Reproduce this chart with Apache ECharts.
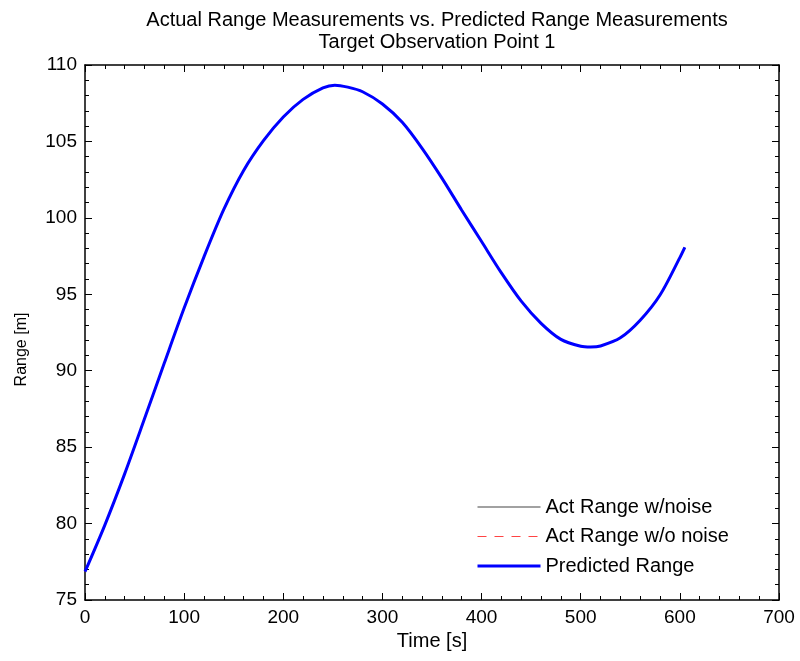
<!DOCTYPE html>
<html>
<head>
<meta charset="utf-8">
<script src="https://cdn.jsdelivr.net/npm/echarts@6/dist/echarts.min.js"></script>
<style>html,body{margin:0;padding:0;background:#fff}#c{width:800px;height:661px}</style>
</head>
<body>
<div id="c"></div>
<script>
const titleLines = ['Actual Range Measurements vs. Predicted Range Measurements', 'Target Observation Point 1'];
const xName = 'Time [s]';
const yName = 'Range [m]';
const seriesNames = ['Act Range w/noise', 'Act Range w/o noise', 'Predicted Range'];
const timeS = [0, 20, 40, 60, 80, 100, 120, 140, 160, 180, 200, 220, 240, 252, 265, 280, 300, 320, 340, 360, 380, 400, 420, 440, 460, 480, 500, 510, 520, 540, 560, 580, 600, 605];
const predictedRange = [76.85, 79.9, 83.25, 86.85, 90.5, 94.1, 97.45, 100.55, 103.1, 105.05, 106.6, 107.75, 108.5, 108.68, 108.55, 108.25, 107.45, 106.25, 104.55, 102.6, 100.5, 98.45, 96.4, 94.55, 93.1, 92.05, 91.6, 91.55, 91.62, 92.15, 93.3, 94.95, 97.4, 98.07];
const actualNoisy = predictedRange.slice();
const actualClean = predictedRange.slice();
const xMin = 0, xMax = 700, xStep = 100;
const yMin = 75, yMax = 110, yStep = 5;

const FONT = 'Liberation Sans, Arial, sans-serif';
const pairs = (xs, ys) => xs.map((x, i) => [x, ys[i]]);
const axisCommon = {
  axisLine: { show: true, onZero: false, lineStyle: { color: '#000', width: 1.5 } },
  axisTick: { show: true, inside: true, length: 7, lineStyle: { color: '#000', width: 1 } },
  minorTick: { show: true, splitNumber: 5, length: 4, lineStyle: { color: '#000', width: 1 } },
  splitLine: { show: false }
};
const legendLines = [
  { width: 1.2, type: 'solid' },
  { width: 1.2, type: [9, 8] },
  { width: 3, type: 'solid' }
];
const chart = echarts.init(document.getElementById('c'), null, { renderer: 'canvas' });
chart.setOption({
  backgroundColor: '#fff',
  animation: false,
  textStyle: { fontFamily: FONT },
  title: {
    text: titleLines.join('\n'),
    left: 432, top: 4, textAlign: 'center',
    textStyle: { fontFamily: FONT, fontSize: 20, fontWeight: 'normal', color: '#000', lineHeight: 22 }
  },
  grid: { left: 85, right: 21, top: 65, bottom: 61, containLabel: false },
  legend: {
    orient: 'vertical', left: 471, top: 492,
    itemWidth: 63, itemHeight: 10, itemGap: 9.5,
    itemStyle: { opacity: 0 },
    textStyle: { fontFamily: FONT, fontSize: 20, color: '#000', lineHeight: 20 },
    data: seriesNames.map((n, i) => ({ name: n, lineStyle: legendLines[i] }))
  },
  xAxis: [
    Object.assign({ type: 'value', position: 'bottom', min: xMin, max: xMax, interval: xStep,
      name: xName, nameLocation: 'middle', nameGap: 27,
      nameTextStyle: { fontFamily: FONT, fontSize: 20, color: '#000' },
      axisLabel: { show: true, margin: 8, fontFamily: FONT, fontSize: 19, color: '#000' } }, axisCommon),
    Object.assign({ type: 'value', position: 'top', min: xMin, max: xMax, interval: xStep,
      axisLabel: { show: false } }, axisCommon)
  ],
  yAxis: [
    Object.assign({ type: 'value', position: 'left', min: yMin, max: yMax, interval: yStep,
      name: yName, nameLocation: 'middle', nameGap: 55,
      nameTextStyle: { fontFamily: FONT, fontSize: 16, color: '#000', padding: [0, 34, 0, 0] },
      axisLabel: { show: true, margin: 8, fontFamily: FONT, fontSize: 19, color: '#000' } }, axisCommon),
    Object.assign({ type: 'value', position: 'right', min: yMin, max: yMax, interval: yStep,
      axisLabel: { show: false } }, axisCommon)
  ],
  series: [
    { name: seriesNames[0], type: 'line', data: pairs(timeS, actualNoisy), smooth: 0.3, symbol: 'none',
      lineStyle: { color: '#444', width: 1 }, itemStyle: { color: '#444' } },
    { name: seriesNames[1], type: 'line', data: pairs(timeS, actualClean), smooth: 0.3, symbol: 'none',
      lineStyle: { color: '#ff4444', width: 1, type: [9, 8] }, itemStyle: { color: '#ff4444' } },
    { name: seriesNames[2], type: 'line', data: pairs(timeS, predictedRange), smooth: 0.3, symbol: 'none',
      lineStyle: { color: '#0000ff', width: 3 }, itemStyle: { color: '#0000ff' } }
  ]
});
</script>
</body>
</html>
